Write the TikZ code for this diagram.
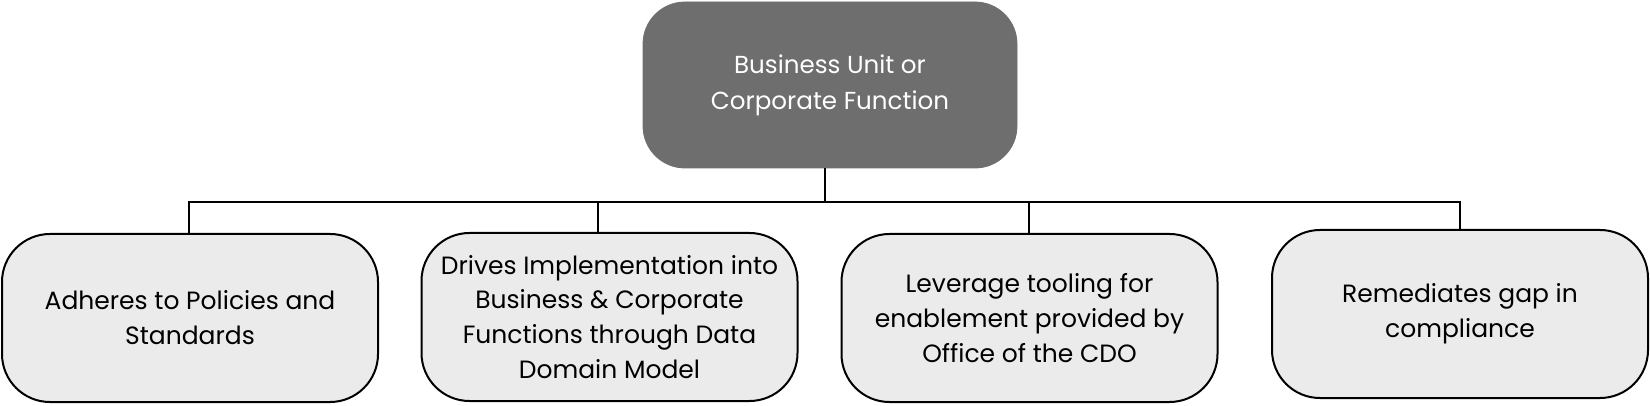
\documentclass[tikz,border=0pt]{standalone}
\usepackage{fontspec}
\setmainfont{Poppins}
\usetikzlibrary{positioning,calc}
\definecolor{topfill}{HTML}{6E6E6E}
\definecolor{boxfill}{HTML}{EBEBEB}
\begin{document}
\begin{tikzpicture}[x=0.5pt,y=-0.5pt,
  topbox/.style={rectangle, rounded corners=21pt, fill=topfill, draw=topfill,
    minimum width=187pt, minimum height=83pt, text=white, align=center,
    font=\fontsize{12.3}{17.9}\selectfont, inner sep=0pt},
  leafbox/.style={rectangle, rounded corners=24pt, fill=boxfill, draw=black, line width=1pt,
    minimum width=188pt, minimum height=84pt, text=black, align=center,
    font=\fontsize{12.5}{17.4}\selectfont, inner sep=0pt},
  conn/.style={draw=black, line width=1pt}]
\useasboundingbox (0,0) rectangle (1650,406);
\node[topbox] (top) at (830,85) {Business Unit or\\Corporate Function};
\node[leafbox] (b1) at (190,318) {Adheres to Policies and\\Standards};
\node[leafbox] (b2) at (609.5,317) {Drives Implementation into\\Business \& Corporate\\Functions through Data\\Domain Model};
\node[leafbox] (b3) at (1029.5,318) {Leverage tooling for\\enablement provided by\\Office of the CDO};
\node[leafbox] (b4) at (1460,314) {Remediates gap in\\compliance};
\coordinate (bus) at (825,202);
\coordinate (t1) at (189,202);
\coordinate (t4) at (1460,202);
\draw[conn] (top.south -| bus) -- (bus);
\draw[conn] ([xshift=-0.5pt]b1.north) |- (t4) -- (b4.north);
\draw[conn] ([xshift=-5.75pt]b2.north) -- ++(0,-31);
\draw[conn] ([xshift=-0.25pt]b3.north) -- ++(0,-32);
\end{tikzpicture}
\end{document}
